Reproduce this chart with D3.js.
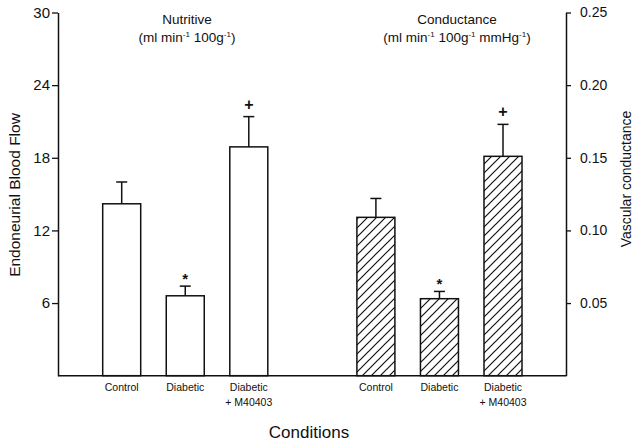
<!DOCTYPE html>
<html>
<head>
<meta charset="utf-8">
<script src="https://cdn.jsdelivr.net/npm/d3@7"></script>
<style>
  html, body { margin: 0; padding: 0; background: #fff; }
  svg { display: block; font-family: "Liberation Sans", Arial, sans-serif; }
</style>
</head>
<body>
<svg id="chart" width="640" height="444"></svg>
<script>
// ---- data ----
const categories = ["Control", "Diabetic", "Diabetic|+ M40403"];
const nutritive = [14.2, 6.6, 18.9];
const nutritiveErr = [1.8, 0.8, 2.5];
const nutritiveSig = ["", "*", "+"];
const conductance = [0.109, 0.053, 0.151];
const conductanceErr = [0.013, 0.005, 0.022];
const conductanceSig = ["", "*", "+"];
const leftTicks = [6, 12, 18, 24, 30];
const rightTicks = [0.05, 0.10, 0.15, 0.20, 0.25];
// slot index of each bar (slot 3 is the gap between the panels)
const nutritiveSlots = [0, 1, 2];
const conductanceSlots = [4, 5, 6];

const svg = d3.select("#chart");
const xL = 58, xR = 566, yTop = 12.5, yBase = 375.7;

const yLeft = d3.scaleLinear().domain([0, 30]).range([yBase, yTop]);
const yRight = d3.scaleLinear().domain([0, 0.25]).range([yBase, yTop]);
const xSlot = d3.scaleLinear().domain([0, 6]).range([121.7, 503.0]);
const barW = 38;

// hatch pattern
const defs = svg.append("defs");
const pat = defs.append("pattern").attr("id", "hatch")
  .attr("patternUnits", "userSpaceOnUse").attr("width", 9).attr("height", 9);
pat.append("rect").attr("width", 9).attr("height", 9).attr("fill", "#fff");
pat.append("path").attr("d", "M-2,2 L2,-2 M0,9 L9,0 M7,11 L11,7")
  .attr("stroke", "#111").attr("stroke-width", 1.2);

// axes
const axL = svg.append("g").attr("transform", `translate(${xL},0)`)
  .call(d3.axisLeft(yLeft).tickValues(leftTicks).tickSize(6).tickSizeOuter(0).tickFormat(d3.format("d")));
const axR = svg.append("g").attr("transform", `translate(${xR},0)`)
  .call(d3.axisRight(yRight).tickValues(rightTicks).tickSize(5).tickSizeOuter(0).tickFormat(d3.format(".2f")));
[axL, axR].forEach(g => {
  g.select(".domain").attr("stroke", "#111").attr("stroke-width", 1.5);
  g.selectAll(".tick line").attr("stroke", "#111").attr("stroke-width", 1.3);
  g.selectAll(".tick text").attr("fill", "#111").style("font-family", "Liberation Sans, Arial, sans-serif");
});
axL.selectAll(".tick text").style("font-size", "15px").attr("x", -8);
axR.selectAll(".tick text").style("font-size", "14px").attr("x", 14);

// baseline
svg.append("line").attr("x1", xL).attr("x2", xR).attr("y1", yBase).attr("y2", yBase)
  .attr("stroke", "#111").attr("stroke-width", 1.5);

function drawGroup(vals, errs, sigs, slots, yScale, fill) {
  const g = svg.append("g");
  const data = vals.map((v, i) => ({ v, e: errs[i], s: sigs[i], slot: slots[i], cat: categories[i] }));
  g.selectAll("rect.bar").data(data).enter().append("rect")
    .attr("x", d => xSlot(d.slot) - barW / 2)
    .attr("y", d => yScale(d.v))
    .attr("width", barW)
    .attr("height", d => yScale(0) - yScale(d.v))
    .attr("fill", fill).attr("stroke", "#111").attr("stroke-width", 1.5);
  g.selectAll("line.err").data(data).enter().append("line")
    .attr("x1", d => xSlot(d.slot)).attr("x2", d => xSlot(d.slot))
    .attr("y1", d => yScale(d.v)).attr("y2", d => yScale(d.v + d.e))
    .attr("stroke", "#111").attr("stroke-width", 1.5);
  g.selectAll("line.cap").data(data).enter().append("line")
    .attr("x1", d => xSlot(d.slot) - 5.5).attr("x2", d => xSlot(d.slot) + 5.5)
    .attr("y1", d => yScale(d.v + d.e)).attr("y2", d => yScale(d.v + d.e))
    .attr("stroke", "#111").attr("stroke-width", 1.5);
  g.selectAll("text.sig").data(data.filter(d => d.s)).enter().append("text")
    .attr("x", d => xSlot(d.slot))
    .attr("y", d => yScale(d.v + d.e) - (d.s === "*" ? 2 : 7))
    .attr("text-anchor", "middle").attr("font-size", d => d.s === "*" ? 15 : 16)
    .attr("font-weight", "bold").attr("fill", "#111").text(d => d.s);
  // category labels
  data.forEach(d => {
    const lines = d.cat.split("|");
    lines.forEach((ln, j) => {
      g.append("text").attr("x", xSlot(d.slot)).attr("y", 391 + j * 14.5)
        .attr("text-anchor", "middle").attr("font-size", 10.5).attr("fill", "#111").text(ln);
    });
  });
}
drawGroup(nutritive, nutritiveErr, nutritiveSig, nutritiveSlots, yLeft, "#fff");
drawGroup(conductance, conductanceErr, conductanceSig, conductanceSlots, yRight, "url(#hatch)");

// panel titles
function title(cx, main, parts) {
  svg.append("text").attr("x", cx).attr("y", 24).attr("text-anchor", "middle")
    .attr("font-size", 13.5).attr("fill", "#111").text(main);
  const t = svg.append("text").attr("x", cx).attr("y", 42).attr("text-anchor", "middle")
    .attr("font-size", 13.5).attr("fill", "#111");
  parts.forEach(p => {
    t.append("tspan").attr("font-size", p.sup ? 8 : 13.5)
      .attr("dy", p.sup ? -5 : (p.after ? 5 : 0)).text(p.t);
  });
}
title(187, "Nutritive", [
  { t: "(ml min" }, { t: "-1", sup: true }, { t: " 100g", after: true }, { t: "-1", sup: true }, { t: ")", after: true }
]);
title(457, "Conductance", [
  { t: "(ml min" }, { t: "-1", sup: true }, { t: " 100g", after: true }, { t: "-1", sup: true },
  { t: " mmHg", after: true }, { t: "-1", sup: true }, { t: ")", after: true }
]);

// axis titles
svg.append("text").attr("transform", "translate(20,195) rotate(-90)")
  .attr("text-anchor", "middle").attr("font-size", 15.5).attr("fill", "#111").text("Endoneurial Blood Flow");
svg.append("text").attr("transform", "translate(631,179) rotate(-90)")
  .attr("text-anchor", "middle").attr("font-size", 14).attr("fill", "#111").text("Vascular conductance");
svg.append("text").attr("x", 309).attr("y", 438).attr("text-anchor", "middle")
  .attr("font-size", 17).attr("fill", "#111").text("Conditions");
</script>
</body>
</html>
